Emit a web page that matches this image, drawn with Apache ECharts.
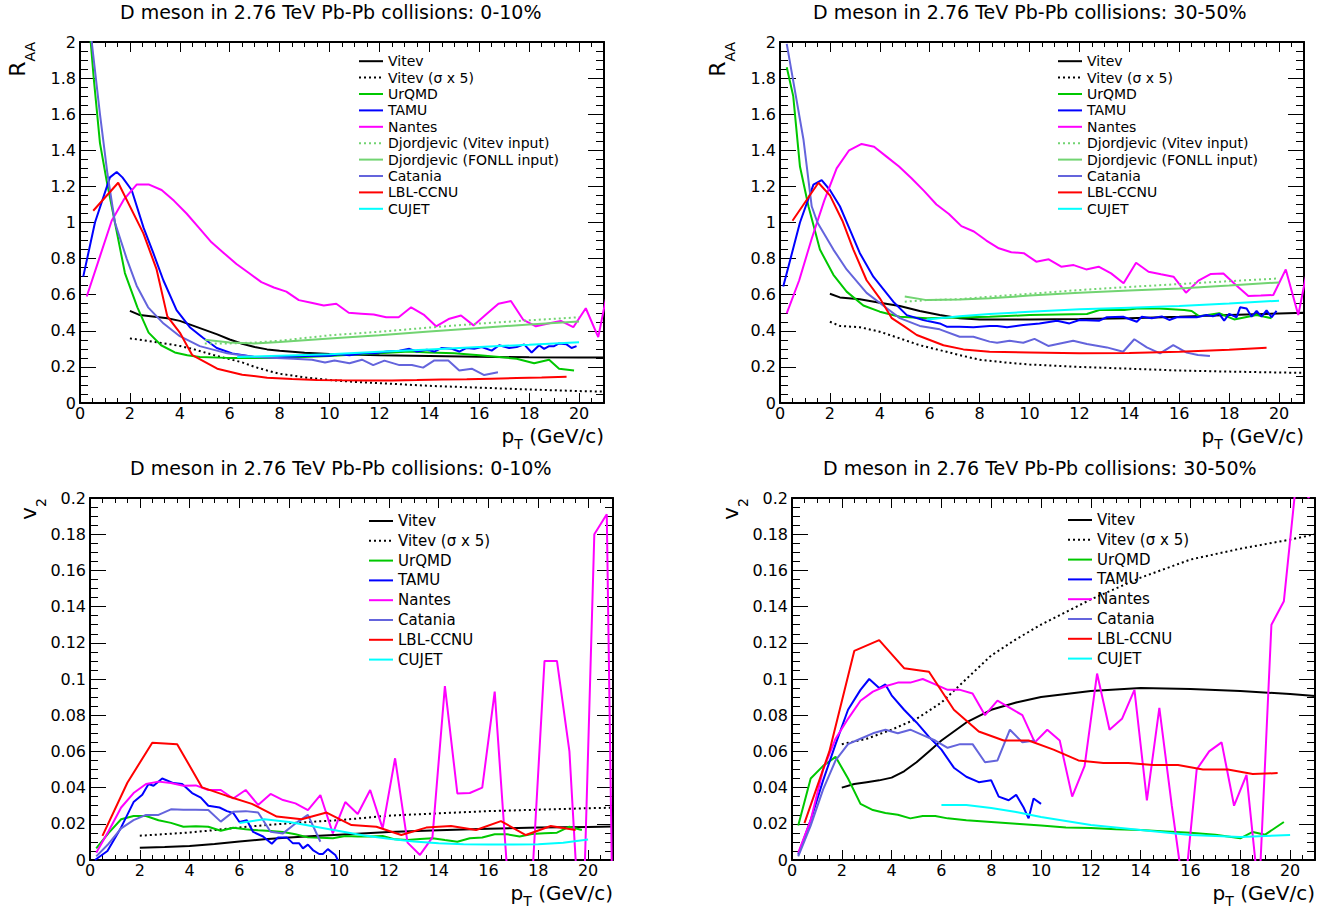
<!DOCTYPE html>
<html>
<head>
<meta charset="utf-8">
<script src="https://cdn.jsdelivr.net/npm/echarts@6/dist/echarts.min.js"></script>
<style>
html,body{margin:0;padding:0;background:#fff;}
#chart{width:1325px;height:909px;}
</style>
</head>
<body>
<div id="chart"></div>
<script>
// ---------- R_AA, 0-10% ----------
const raa010_vitev = [[2,0.51],[2.4,0.487],[3,0.478],[3.5,0.47],[4,0.455],[4.5,0.43],[5,0.405],[5.5,0.38],[6,0.352],[6.5,0.328],[7,0.31],[7.5,0.297],[8,0.29],[9,0.278],[10,0.272],[12,0.265],[14,0.26],[16,0.256],[18,0.253],[20,0.252],[21,0.252]];
const raa010_vitev5 = [[2,0.358],[2.5,0.348],[3,0.338],[3.5,0.328],[4,0.316],[4.5,0.3],[5,0.28],[5.5,0.26],[6,0.243],[6.5,0.225],[7,0.2],[7.5,0.18],[8,0.162],[9,0.142],[10,0.127],[11,0.117],[12,0.11],[14,0.095],[16,0.085],[18,0.075],[20,0.066],[21,0.063]];
const raa010_urqmd = [[0.25,2.3],[0.55,1.8],[0.8,1.44],[1.07,1.23],[1.4,1.0],[1.8,0.72],[2.3,0.53],[2.75,0.39],[3.25,0.32],[3.8,0.28],[4.3,0.265],[4.8,0.255],[5.9,0.25],[7,0.25],[8,0.25],[9,0.255],[10,0.26],[11,0.268],[12,0.275],[13.2,0.285],[14,0.28],[15,0.275],[16,0.265],[16.8,0.255],[17.5,0.245],[18.2,0.22],[18.8,0.24],[19.2,0.19],[19.8,0.18]];
const raa010_tamu = [[0.13,0.7],[0.6,1.0],[1.2,1.25],[1.47,1.28],[1.7,1.25],[2.07,1.18],[2.55,0.97],[2.94,0.83],[3.34,0.68],[3.87,0.515],[4.4,0.42],[4.94,0.36],[5.48,0.305],[6.1,0.275],[7,0.255],[8.1,0.255],[9,0.26],[10,0.262],[10.4,0.27],[10.8,0.265],[11.35,0.275],[11.8,0.275],[12.3,0.285],[12.8,0.29],[13.2,0.3],[13.5,0.285],[13.9,0.295],[14.2,0.285],[14.5,0.305],[14.9,0.3],[15.2,0.285],[15.5,0.305],[15.8,0.3],[16.1,0.31],[16.5,0.29],[16.8,0.32],[17.2,0.305],[17.5,0.31],[17.8,0.325],[18.1,0.28],[18.4,0.32],[18.6,0.3],[18.8,0.315],[19,0.315],[19.2,0.33],[19.5,0.325],[19.7,0.305],[19.9,0.315]];
const raa010_nantes = [[0.27,0.59],[0.77,0.8],[1.27,1.01],[1.77,1.13],[2.27,1.21],[2.77,1.21],[3.27,1.18],[3.77,1.12],[4.27,1.05],[4.77,0.97],[5.27,0.89],[5.77,0.83],[6.27,0.77],[6.77,0.72],[7.27,0.67],[7.77,0.64],[8.27,0.617],[8.77,0.57],[9.27,0.555],[9.77,0.54],[10.27,0.55],[10.77,0.5],[11.27,0.495],[11.77,0.49],[12.27,0.475],[12.77,0.475],[13.27,0.53],[13.77,0.49],[14.27,0.425],[14.77,0.465],[15.27,0.485],[15.77,0.43],[16.27,0.49],[16.77,0.55],[17.27,0.565],[17.77,0.46],[18.27,0.425],[18.77,0.44],[19.27,0.455],[19.77,0.42],[20.27,0.525],[20.77,0.365],[21.27,0.71]];
const raa010_djVitev = [[5,0.33],[6,0.33],[7,0.335],[8,0.345],[10,0.375],[12,0.395],[14,0.418],[16,0.44],[18,0.458],[20,0.475]];
const raa010_djFonll = [[5,0.35],[6,0.335],[7,0.33],[8,0.338],[10,0.357],[12,0.376],[14,0.396],[16,0.416],[18,0.435],[20,0.452]];
const raa010_catania = [[0.25,2.5],[0.47,2.0],[0.8,1.6],[1.1,1.27],[1.4,1.0],[1.87,0.8],[2.27,0.65],[2.73,0.53],[3.35,0.44],[4,0.37],[4.8,0.315],[5.9,0.275],[7,0.255],[8.55,0.245],[9.3,0.24],[9.82,0.224],[10.2,0.235],[10.8,0.22],[11.3,0.24],[11.75,0.21],[12.2,0.235],[12.8,0.21],[13.3,0.21],[13.75,0.196],[14.2,0.236],[14.76,0.236],[15.2,0.18],[15.7,0.19],[16.2,0.155],[16.75,0.17]];
const raa010_lbl = [[0.53,1.065],[1.53,1.22],[2.54,0.94],[3.07,0.74],[3.5,0.48],[4,0.39],[4.5,0.265],[5.5,0.19],[6.5,0.157],[7.5,0.14],[8.5,0.133],[9.5,0.128],[10.5,0.126],[11.5,0.125],[12.5,0.125],[13.5,0.127],[14.5,0.13],[15.5,0.132],[16.5,0.135],[17.5,0.138],[18.5,0.141],[19.5,0.145]];
const raa010_cujet = [[6.3,0.255],[8,0.262],[10,0.27],[12,0.284],[14,0.297],[16,0.31],[18,0.323],[20,0.337]];

// ---------- R_AA, 30-50% ----------
const raa3050_vitev = [[2,0.605],[2.4,0.585],[3.2,0.575],[4,0.555],[4.8,0.537],[5.6,0.51],[6.4,0.487],[7.2,0.47],[8,0.463],[10,0.462],[12,0.465],[14,0.47],[16,0.478],[18,0.487],[20,0.496],[21,0.5]];
const raa3050_vitev5 = [[2,0.45],[2.4,0.427],[3.2,0.42],[4,0.395],[4.8,0.358],[5.6,0.32],[6.4,0.293],[7.2,0.265],[8,0.24],[9,0.225],[10,0.213],[12,0.2],[14,0.19],[16,0.18],[18,0.174],[20,0.169],[21,0.167]];
const raa3050_urqmd = [[0.27,1.86],[0.53,1.7],[0.8,1.31],[1.14,1.09],[1.6,0.85],[2.14,0.71],[2.67,0.617],[3.34,0.54],[4,0.506],[4.8,0.478],[5.9,0.469],[7.2,0.473],[8.4,0.478],[10,0.487],[12.3,0.493],[12.8,0.515],[13.8,0.515],[14.3,0.524],[15.2,0.524],[16.2,0.515],[16.5,0.51],[16.8,0.48],[17.6,0.497],[18.2,0.463],[19.1,0.487],[19.7,0.469]];
const raa3050_tamu = [[0.13,0.645],[0.8,1.0],[1.34,1.21],[1.67,1.235],[2,1.18],[2.4,1.09],[2.8,0.96],[3.2,0.83],[3.74,0.7],[4.54,0.561],[5.08,0.487],[5.74,0.46],[6.4,0.441],[6.68,0.423],[7.2,0.423],[7.75,0.42],[8.4,0.427],[8.7,0.427],[9.1,0.42],[9.75,0.432],[10.4,0.441],[11.1,0.456],[11.6,0.441],[12,0.46],[12.8,0.456],[13.1,0.475],[13.75,0.478],[14.3,0.45],[14.5,0.478],[14.9,0.47],[15.3,0.48],[15.6,0.46],[15.9,0.475],[16.3,0.475],[16.7,0.475],[17.1,0.488],[17.35,0.48],[17.6,0.494],[17.8,0.456],[18,0.494],[18.3,0.475],[18.44,0.53],[18.7,0.524],[18.9,0.478],[19.1,0.51],[19.3,0.478],[19.5,0.513],[19.7,0.475],[19.9,0.51]];
const raa3050_nantes = [[0.27,0.497],[0.77,0.68],[1.27,0.91],[1.77,1.12],[2.27,1.3],[2.77,1.4],[3.27,1.435],[3.77,1.42],[4.27,1.365],[4.77,1.31],[5.27,1.245],[5.77,1.175],[6.27,1.1],[6.77,1.047],[7.27,0.98],[7.77,0.95],[8.27,0.9],[8.77,0.857],[9.27,0.835],[9.77,0.83],[10.27,0.783],[10.77,0.796],[11.27,0.755],[11.77,0.764],[12.27,0.74],[12.77,0.755],[13.27,0.718],[13.77,0.663],[14.27,0.777],[14.77,0.727],[15.27,0.713],[15.77,0.7],[16.27,0.611],[16.77,0.678],[17.27,0.715],[17.77,0.718],[18.27,0.654],[18.77,0.593],[19.27,0.595],[19.77,0.598],[20.27,0.74],[20.77,0.487],[21.27,0.837]];
const raa3050_djVitev = [[5,0.561],[5.88,0.57],[7.2,0.575],[8.4,0.589],[10,0.605],[12,0.626],[14,0.643],[16,0.659],[18,0.675],[20,0.69]];
const raa3050_djFonll = [[5,0.59],[5.88,0.57],[7.2,0.573],[8.4,0.58],[10,0.595],[12,0.611],[14,0.623],[16,0.635],[18,0.651],[20,0.668]];
const raa3050_catania = [[0.27,1.99],[0.94,1.46],[1.27,1.09],[1.5,1.0],[2.14,0.85],[2.67,0.74],[3.47,0.61],[4.28,0.525],[4.8,0.47],[5.6,0.427],[6.4,0.408],[7.2,0.367],[7.75,0.367],[8.4,0.34],[8.7,0.334],[9.2,0.345],[9.75,0.334],[10.2,0.355],[10.75,0.316],[11.75,0.345],[12.3,0.327],[13.1,0.308],[13.75,0.284],[14.2,0.353],[14.7,0.308],[15.23,0.275],[15.76,0.321],[16.3,0.279],[16.75,0.266],[17.23,0.26]];
const raa3050_lbl = [[0.5,1.01],[1.54,1.22],[2,1.15],[2.5,1.01],[2.94,0.85],[3.47,0.68],[4,0.58],[4.48,0.47],[4.95,0.427],[5.48,0.377],[6.55,0.32],[7.35,0.297],[8.4,0.284],[10,0.28],[12,0.275],[14,0.277],[16,0.284],[18,0.295],[19.5,0.306]];
const raa3050_cujet = [[5.88,0.463],[7.2,0.48],[8.4,0.493],[10,0.505],[12,0.519],[14,0.528],[16,0.537],[18,0.551],[20,0.567]];

// ---------- v2, 0-10% ----------
const v2010_vitev = [[2,0.0068],[3,0.0072],[4,0.0078],[5,0.0088],[6,0.0102],[7,0.0114],[8,0.0124],[9,0.0132],[10,0.014],[12,0.0155],[14,0.0165],[16,0.0173],[18,0.0179],[20,0.0183],[21,0.0185]];
const v2010_vitev5 = [[2,0.0134],[3,0.0143],[4,0.0152],[5,0.0165],[6,0.018],[7,0.0192],[8,0.0203],[9,0.0212],[10,0.022],[12,0.0245],[14,0.0258],[16,0.027],[18,0.0278],[20,0.0286],[21,0.0289]];
const v2010_urqmd = [[0.25,0.0064],[0.75,0.015],[1.25,0.0225],[1.75,0.0243],[2.25,0.0243],[2.75,0.022],[3.25,0.0205],[3.75,0.0184],[4.25,0.0187],[4.75,0.0184],[5.25,0.0162],[5.75,0.0178],[6.25,0.017],[6.75,0.0164],[7.25,0.016],[7.75,0.0155],[8.25,0.0142],[8.75,0.0125],[9.25,0.0123],[9.75,0.012],[10.25,0.0133],[10.75,0.013],[11.25,0.013],[11.75,0.0133],[12.25,0.0114],[12.75,0.011],[13.25,0.0116],[13.75,0.012],[14.25,0.011],[14.75,0.0101],[15.25,0.012],[15.75,0.0124],[16.25,0.0142],[16.75,0.0142],[17.25,0.013],[17.75,0.0144],[18.25,0.0148],[18.75,0.0151],[19.25,0.0184],[19.75,0.0166]];
const v2010_tamu = [[0.2,0],[0.7,0.005],[1.25,0.018],[1.75,0.032],[2.1,0.036],[2.35,0.042],[2.55,0.041],[2.9,0.045],[3.35,0.0425],[3.7,0.042],[4.1,0.037],[4.45,0.0345],[4.75,0.03],[5.2,0.029],[5.5,0.027],[5.75,0.026],[6,0.021],[6.3,0.022],[6.55,0.0155],[6.95,0.013],[7.3,0.009],[7.55,0.0125],[7.9,0.0125],[8.15,0.0092],[8.4,0.0092],[8.55,0.0064],[8.75,0.0085],[8.95,0.0055],[9.2,0.0033],[9.35,0.0033],[9.55,0.006],[9.85,0.0028],[9.95,0]];
const v2010_nantes = [[0.25,0.004],[0.75,0.016],[1.25,0.029],[1.75,0.037],[2.25,0.042],[2.75,0.0433],[3.25,0.0425],[3.75,0.041],[4.25,0.0412],[4.75,0.0387],[5.25,0.0387],[5.75,0.034],[6.25,0.0387],[6.75,0.0304],[7.25,0.0365],[7.75,0.0331],[8.25,0.0313],[8.75,0.0276],[9.25,0.0359],[9.75,0.0147],[10.25,0.032],[10.75,0.0254],[11.25,0.0387],[11.75,0.0175],[12.25,0.0562],[12.75,0.0096],[13.25,0.0028],[13.75,0.0125],[14.25,0.0961],[14.75,0.0368],[15.25,0.037],[15.75,0.04],[16.25,0.093],[16.75,-0.006],[17.25,-0.05],[17.75,-0.012],[18.25,0.11],[18.75,0.11],[19.25,0.06],[19.75,-0.06],[20.25,0.18],[20.75,0.191],[21.25,-0.29]];
const v2010_catania = [[0.25,0.002],[0.75,0.009],[1.25,0.0175],[1.75,0.022],[2.25,0.0249],[2.75,0.0249],[3.25,0.028],[3.75,0.0278],[4.25,0.0278],[4.75,0.0276],[5.25,0.0212],[5.75,0.0267],[6.25,0.027],[6.75,0.0262],[7.25,0.0156],[7.75,0.0147],[8.25,0.0202],[8.75,0.0249],[9.25,0.0101]];
const v2010_lbl = [[0.5,0.0133],[1.5,0.0427],[2.5,0.0648],[3.5,0.064],[4.5,0.0401],[5.5,0.0354],[6.5,0.031],[7.5,0.024],[8.5,0.0225],[9.5,0.0262],[10.5,0.0193],[11.5,0.0184],[12.5,0.0138],[13.5,0.0179],[14.5,0.0188],[15.5,0.0166],[16.5,0.0215],[17.5,0.0138],[18.5,0.0188],[19.5,0.0166]];
const v2010_cujet = [[6,0.0205],[7,0.0225],[8,0.021],[9,0.0185],[10,0.016],[11,0.0135],[12,0.0118],[13,0.0102],[14,0.0092],[15,0.0087],[16,0.0086],[17,0.0085],[18,0.0087],[19,0.0095],[20,0.0113]];

// ---------- v2, 30-50% ----------
const v23050_vitev = [[2,0.04],[2.5,0.042],[3,0.043],[3.5,0.044],[4,0.0455],[4.5,0.049],[5,0.054],[5.5,0.06],[6,0.066],[7,0.076],[8,0.083],[9,0.087],[10,0.09],[12,0.0934],[14,0.095],[16,0.0945],[18,0.0934],[20,0.0917],[21,0.0906]];
const v23050_vitev5 = [[2,0.064],[3,0.067],[4,0.072],[5,0.078],[6,0.087],[7,0.1],[8,0.113],[9,0.122],[10,0.13],[12,0.144],[14,0.156],[16,0.166],[18,0.172],[20,0.177],[21,0.18]];
const v23050_urqmd = [[0.25,0.019],[0.75,0.045],[1.25,0.052],[1.75,0.057],[2.25,0.045],[2.75,0.031],[3.25,0.0276],[3.75,0.026],[4.25,0.025],[4.75,0.023],[5.25,0.0243],[5.75,0.0243],[6.25,0.023],[7,0.022],[8,0.021],[9,0.02],[10,0.019],[11,0.018],[12,0.0177],[13,0.017],[14,0.0166],[15,0.0158],[16,0.015],[17,0.014],[18,0.012],[18.5,0.0155],[19,0.014],[19.75,0.021]];
const v23050_tamu = [[0.25,0.003],[0.75,0.022],[1.25,0.044],[1.75,0.064],[2.25,0.083],[2.75,0.094],[3.1,0.1],[3.5,0.095],[3.75,0.097],[4,0.091],[4.5,0.083],[5,0.076],[5.5,0.068],[6,0.061],[6.5,0.051],[7,0.046],[7.5,0.043],[8,0.044],[8.3,0.035],[8.7,0.033],[9,0.036],[9.3,0.029],[9.5,0.023],[9.7,0.034],[10,0.031]];
const v23050_nantes = [[0.25,0.004],[0.75,0.022],[1.25,0.05],[1.75,0.067],[2.25,0.078],[2.75,0.088],[3.25,0.093],[3.75,0.096],[4.25,0.098],[4.75,0.098],[5.25,0.1],[5.75,0.097],[6.25,0.094],[6.75,0.094],[7.25,0.092],[7.75,0.08],[8.25,0.088],[8.75,0.084],[9.25,0.08],[9.75,0.065],[10.25,0.072],[10.75,0.066],[11.25,0.035],[11.75,0.052],[12.25,0.103],[12.75,0.072],[13.25,0.078],[13.75,0.094],[14.25,0.033],[14.75,0.084],[15.25,0.03],[15.75,-0.02],[16.25,0.05],[16.75,0.06],[17.25,0.065],[17.75,0.03],[18.25,0.047],[18.75,-0.02],[19.25,0.13],[19.75,0.143],[20.25,0.21],[20.75,0.2],[21.25,0.3]];
const v23050_catania = [[0.25,0.002],[0.75,0.019],[1.25,0.039],[1.75,0.055],[2.25,0.064],[2.75,0.067],[3.25,0.07],[3.75,0.072],[4.25,0.07],[4.75,0.072],[5.25,0.069],[5.75,0.066],[6.25,0.062],[6.75,0.064],[7.25,0.064],[7.75,0.054],[8.25,0.055],[8.75,0.072],[9.25,0.065],[9.75,0.066]];
const v23050_lbl = [[0.5,0.0204],[1.5,0.06],[2.5,0.1155],[3.5,0.1215],[4.5,0.106],[5.5,0.104],[6.5,0.083],[7.5,0.071],[8.5,0.066],[9.5,0.066],[10.5,0.061],[11.5,0.055],[12.5,0.0536],[13.5,0.0536],[14.5,0.0525],[15.5,0.0525],[16.5,0.05],[17.5,0.05],[18.5,0.0475],[19.5,0.048]];
const v23050_cujet = [[6,0.0304],[7,0.0304],[8,0.0287],[9,0.0265],[10,0.0238],[12,0.0193],[14,0.0166],[16,0.0138],[18,0.0127],[20,0.0138]];

// ---------- text ----------
const TITLE_CENTRAL = 'D meson in 2.76 TeV Pb-Pb collisions: 0-10%';
const TITLE_PERIPH = 'D meson in 2.76 TeV Pb-Pb collisions: 30-50%';
const MODELS_RAA = ['Vitev','Vitev (σ x 5)','UrQMD','TAMU','Nantes','Djordjevic (Vitev input)','Djordjevic (FONLL input)','Catania','LBL-CCNU','CUJET'];
const MODELS_V2 = ['Vitev','Vitev (σ x 5)','UrQMD','TAMU','Nantes','Catania','LBL-CCNU','CUJET'];

// ---------- styling ----------
const FONT = "'DejaVu Sans', sans-serif";
const LINE_STYLE = {
  'Vitev': {color:'#000000'},
  'Vitev (σ x 5)': {color:'#000000', type:[2,3]},
  'UrQMD': {color:'#00c800'},
  'TAMU': {color:'#0000ff'},
  'Nantes': {color:'#ff00ff'},
  'Djordjevic (Vitev input)': {color:'#72d472', type:[2,3]},
  'Djordjevic (FONLL input)': {color:'#72d472'},
  'Catania': {color:'#6464dc'},
  'LBL-CCNU': {color:'#ff0000'},
  'CUJET': {color:'#00ffff'}
};

const panels = [
  {
    grid:{left:80, top:42, width:524, height:361},
    yMax:2, yStep:0.2,
    title:TITLE_CENTRAL, titleLeft:120, titleTop:2,
    legendLeft:358, legendTop:53, legendFont:14, legendLine:16.4, legendGap:0, names:MODELS_RAA,
    yTitle:'{m|R}{s|AA}', yTitleX:17,
    curves:{'Vitev':raa010_vitev,'Vitev (σ x 5)':raa010_vitev5,'UrQMD':raa010_urqmd,'TAMU':raa010_tamu,'Nantes':raa010_nantes,'Djordjevic (Vitev input)':raa010_djVitev,'Djordjevic (FONLL input)':raa010_djFonll,'Catania':raa010_catania,'LBL-CCNU':raa010_lbl,'CUJET':raa010_cujet}
  },
  {
    grid:{left:780, top:42, width:524, height:361},
    yMax:2, yStep:0.2,
    title:TITLE_PERIPH, titleLeft:813, titleTop:2,
    legendLeft:1057, legendTop:53, legendFont:14, legendLine:16.4, legendGap:0, names:MODELS_RAA,
    yTitle:'{m|R}{s|AA}', yTitleX:717,
    curves:{'Vitev':raa3050_vitev,'Vitev (σ x 5)':raa3050_vitev5,'UrQMD':raa3050_urqmd,'TAMU':raa3050_tamu,'Nantes':raa3050_nantes,'Djordjevic (Vitev input)':raa3050_djVitev,'Djordjevic (FONLL input)':raa3050_djFonll,'Catania':raa3050_catania,'LBL-CCNU':raa3050_lbl,'CUJET':raa3050_cujet}
  },
  {
    grid:{left:90, top:498, width:523, height:362},
    yMax:0.2, yStep:0.02,
    title:TITLE_CENTRAL, titleLeft:130, titleTop:458,
    legendLeft:368, legendTop:513, legendFont:15, legendLine:16, legendGap:3.8, names:MODELS_V2,
    yTitle:'{m|v}{s|2}', yTitleX:28,
    curves:{'Vitev':v2010_vitev,'Vitev (σ x 5)':v2010_vitev5,'UrQMD':v2010_urqmd,'TAMU':v2010_tamu,'Nantes':v2010_nantes,'Catania':v2010_catania,'LBL-CCNU':v2010_lbl,'CUJET':v2010_cujet}
  },
  {
    grid:{left:792, top:498, width:523, height:362},
    yMax:0.2, yStep:0.02,
    title:TITLE_PERIPH, titleLeft:823, titleTop:458,
    legendLeft:1067, legendTop:512, legendFont:15, legendLine:16, legendGap:3.8, names:MODELS_V2,
    yTitle:'{m|v}{s|2}', yTitleX:730,
    curves:{'Vitev':v23050_vitev,'Vitev (σ x 5)':v23050_vitev5,'UrQMD':v23050_urqmd,'TAMU':v23050_tamu,'Nantes':v23050_nantes,'Catania':v23050_catania,'LBL-CCNU':v23050_lbl,'CUJET':v23050_cujet}
  }
];

const tick = (len) => ({show:true, inside:true, length:len, lineStyle:{color:'#000', width:1}});
const frameLine = {onZero:false, lineStyle:{color:'#000', width:2}};

function makeXAxes(i) {
  const base = {gridIndex:i, type:'value', min:0, max:21, splitLine:{show:false}};
  return [
    Object.assign({}, base, {position:'bottom', interval:2, axisLine:frameLine, axisTick:tick(10),
      axisLabel:{margin:4, fontSize:16, lineHeight:12, fontFamily:FONT, color:'#000', showMaxLabel:false}}),
    Object.assign({}, base, {position:'bottom', interval:0.5, axisLine:{show:false, onZero:false}, axisTick:tick(5), axisLabel:{show:false}}),
    Object.assign({}, base, {position:'top', interval:2, axisLine:frameLine, axisTick:tick(10), axisLabel:{show:false}}),
    Object.assign({}, base, {position:'top', interval:0.5, axisLine:{show:false, onZero:false}, axisTick:tick(5), axisLabel:{show:false}})
  ];
}

function makeYAxes(i, p) {
  const base = {gridIndex:i, type:'value', min:0, max:p.yMax, interval:p.yStep, splitLine:{show:false},
    axisLine:frameLine, axisTick:tick(16),
    minorTick:{show:true, splitNumber:4, length:8, lineStyle:{color:'#000', width:1}}};
  return [
    Object.assign({}, base, {position:'left', axisLabel:{margin:4, fontSize:16, lineHeight:13, fontFamily:FONT, color:'#000'}}),
    Object.assign({}, base, {position:'right', axisLabel:{show:false}})
  ];
}

const option = {
  animation:false,
  backgroundColor:'#ffffff',
  grid:[], xAxis:[], yAxis:[], series:[], title:[], legend:[], graphic:[]
};

// main glyphs plus a lowered subscript; line heights kept tight so the text box hugs the ink
const subRich = (mainSize, subSize, shift, lh) => ({
  m:{fontSize:mainSize, fontFamily:FONT, color:'#000', lineHeight:lh},
  s:{fontSize:subSize, fontFamily:FONT, color:'#000', lineHeight:lh, padding:[shift*2,0,0,0]}
});

panels.forEach((p, i) => {
  option.grid.push(Object.assign({containLabel:false}, p.grid));
  option.xAxis.push(...makeXAxes(i));
  option.yAxis.push(...makeYAxes(i, p));
  option.title.push({text:p.title, left:p.titleLeft, top:p.titleTop, padding:0,
    textStyle:{fontFamily:FONT, fontSize:19, lineHeight:20, fontWeight:'normal', color:'#000'}});
  option.legend.push({
    orient:'vertical', left:p.legendLeft, top:p.legendTop, padding:0,
    itemWidth:24, itemHeight:12, itemGap:p.legendGap, selectedMode:false,
    data:p.names,
    itemStyle:{opacity:0},
    textStyle:{fontFamily:FONT, fontSize:p.legendFont, lineHeight:p.legendLine, color:'#000'}
  });
  Object.keys(p.curves).forEach((name) => {
    const st = LINE_STYLE[name];
    option.series.push({
      type:'line', name:name, xAxisIndex:4*i, yAxisIndex:2*i,
      data:p.curves[name], symbol:'none', showSymbol:false, clip:true, silent:true,
      lineStyle:{color:st.color, width:2, type:st.type || 'solid'},
      itemStyle:{color:st.color},
      emphasis:{disabled:true}
    });
  });
  // axis titles
  const g = p.grid;
  option.graphic.push({
    type:'text', x:p.yTitleX, y:g.top, rotation:Math.PI/2,
    style:{text:p.yTitle, align:'right', verticalAlign:'middle', rich:subRich(22, 14, 13, 20)}
  });
  option.graphic.push({
    type:'text', x:g.left + g.width, y:g.top + g.height + 33,
    style:{text:'{m|p}{s|T}{m| (GeV/c)}', align:'right', verticalAlign:'middle', rich:subRich(20, 14, 8, 18)}
  });
});

const chart = echarts.init(document.getElementById('chart'), null, {renderer:'svg', width:1325, height:909});
chart.setOption(option);
</script>
</body>
</html>
